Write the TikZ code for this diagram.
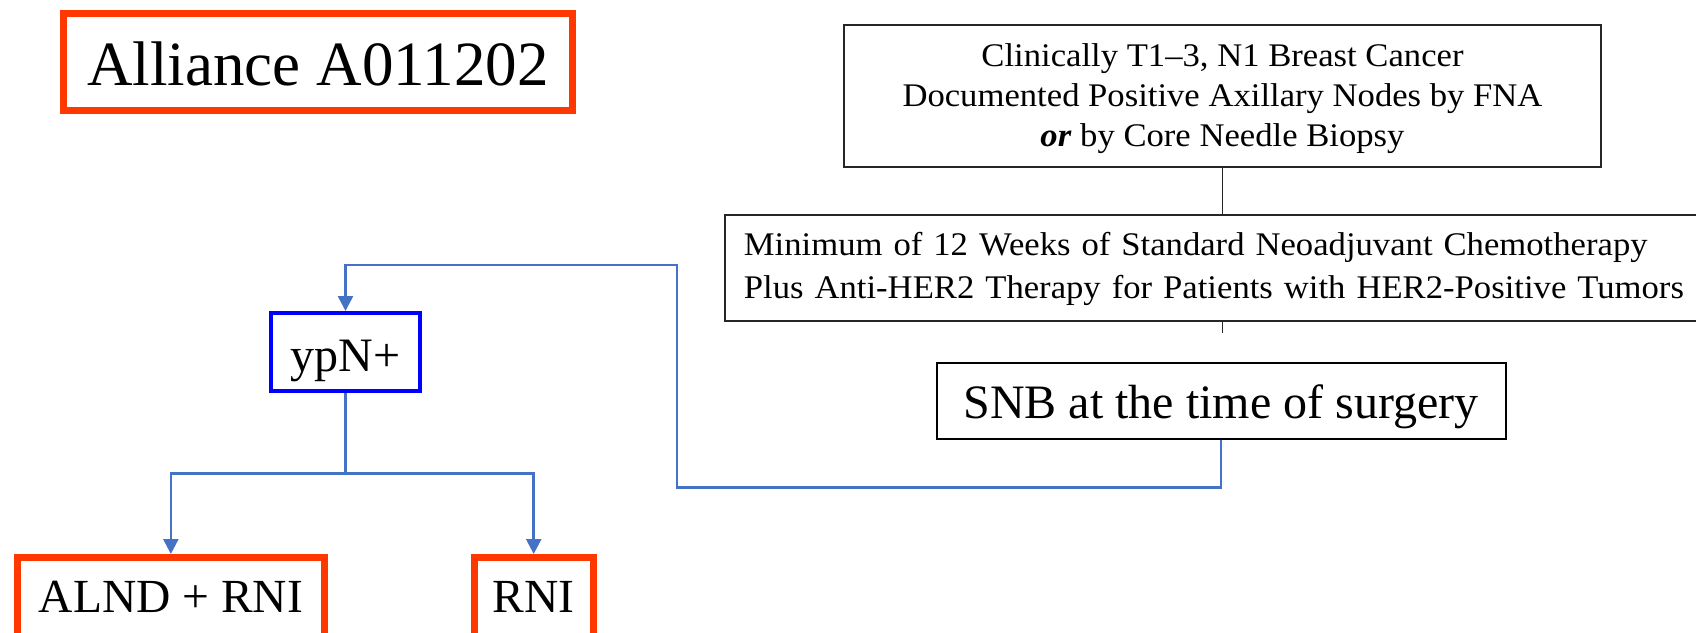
\documentclass[tikz,border=0pt]{standalone}
\usepackage{fontspec}
\setmainfont{Liberation Serif}
\newfontfamily\scanfont[FakeStretch=1.05]{Liberation Serif}
\usetikzlibrary{arrows.meta}

\definecolor{alliancered}{RGB}{255,56,0}
\definecolor{linkblue}{RGB}{68,114,196}
\definecolor{nodeblue}{RGB}{0,0,255}

\tikzset{
redbox/.style={draw=alliancered, line width=7pt, inner sep=0pt,
    font=\fontsize{47.5}{54}\selectfont, text height=31pt, text depth=0pt},
scanbox/.style={draw=black!85, line width=1.8pt, inner sep=0pt,
    font=\scanfont\fontsize{33}{40}\selectfont},
plainbox/.style={draw=black, line width=2pt, inner sep=0pt,
    font=\fontsize{48}{56}\selectfont},
link/.style={draw=linkblue, line width=2.5pt},
linkarrow/.style={link, -{Triangle[width=15pt,length=15pt]}}
}

\begin{document}
\begin{tikzpicture}[x=1pt,y=1pt,yscale=-1,xscale=1]

    \clip (0,0) rectangle (1696,632);

    % trial name
    \node[redbox, font=\fontsize{63}{70}\selectfont, text height=46pt,
        minimum width=509pt, minimum height=97pt]
        (alliance) at (318,62) {Alliance A011202};

    % eligibility and treatment (scanned part)
    \node[scanbox, align=center, text height=108.8pt, text depth=7pt,
        minimum width=756.5pt, minimum height=141.7pt]
        (eligible) at (1222.5,95.8)
        {Clinically T1–3, N1 Breast Cancer\\
         Documented Positive Axillary Nodes by FNA\\
         \textbf{\textit{or}} by Core Needle Biopsy};

    \node[scanbox, anchor=west, align=left, text width=1000pt, inner xsep=19pt,
        font=\scanfont\fontsize{33}{43}\selectfont,
        text height=24.6pt, text depth=50.2pt, minimum height=105.7pt]
        (chemo) at (724,267.8)
        {Minimum of 12 Weeks of Standard Neoadjuvant Chemotherapy\\
         Plus Anti-HER2 Therapy for Patients with HER2-Positive Tumors};

    \coordinate (stubend) at (1222.5,333);
    \draw[black!85, line width=1.8pt] (eligible.south) -- (eligible.south |- chemo.north);
    \draw[black!85, line width=1.8pt] (eligible.south |- chemo.south) -- (stubend);

    \node[plainbox, text height=35pt, text depth=0pt,
        minimum width=569pt, minimum height=76.3pt]
        (snb) at (1221,400.8) {SNB at the time of surgery};

    % pathology and arms
    \node[draw=nodeblue, line width=4pt, inner sep=0pt,
        font=\fontsize{48}{56}\selectfont, text height=38pt, text depth=0pt,
        minimum width=148.7pt, minimum height=78pt]
        (ypn) at (345.5,352) {ypN+};

    \node[redbox, minimum width=306.7pt, minimum height=79.4pt]
        (alnd) at (170.85,597.2) {ALND + RNI};
    \node[redbox, minimum width=119pt, minimum height=79.4pt]
        (rni) at (533.7,597.2) {RNI};

    \draw[linkarrow] (snb.south) -- ++(0,47.3) -| (677,265) -| (ypn.north);

    \draw[link] (ypn.south) -- ++(0,80.3) coordinate (split);
    \foreach \arm in {alnd,rni}{
        \draw[linkarrow] (split) -| (\arm.north);
    }

\end{tikzpicture}
\end{document}
